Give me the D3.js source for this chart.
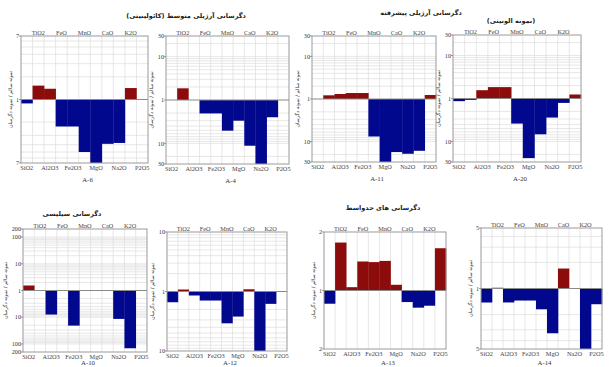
<!DOCTYPE html>
<html><head><meta charset="utf-8">
<script src="https://cdn.jsdelivr.net/npm/d3@7"></script>
<style>body{margin:0;background:#fff}svg{display:block}</style>
</head><body>
<svg id="c" width="614" height="367"></svg>
<script>
// ---- data ----
const oxides = ["SiO2","TiO2","Al2O3","FeO","Fe2O3","MnO","MgO","CaO","Na2O","K2O","P2O5"];
const topLabels = ["TiO2","FeO","MnO","CaO","K2O"];
const bottomLabels = ["SiO2","Al2O3","Fe2O3","MgO","Na2O","P2O5"];
const sampleNames = ["A-6","A-4","A-11","A-20","A-10","A-12","A-13","A-14"];
// altered / fresh ratios (log scale)
const ratioA6  = [0.887,1.53,1.39,0.437,0.437,0.20,0.143,0.257,0.264,1.42,1.0];
const ratioA4  = [1.0,1.86,1.0,0.49,0.49,0.196,0.333,0.088,0.0333,0.40,1.0];
const ratioA11 = [1.0,1.22,1.31,1.38,1.38,0.132,0.0333,0.057,0.052,0.061,1.24];
const ratioA20 = [0.867,0.93,1.56,1.84,1.84,0.261,0.041,0.147,0.36,0.79,1.24];
const ratioA10 = [1.54,1.0,0.126,1.0,0.0486,1.0,1.0,1.0,0.0865,0.0069,1.0];
const ratioA12 = [0.66,1.08,0.857,0.705,0.705,0.292,0.379,1.09,0.1,0.62,1.02];
const ratioA13 = [0.855,1.765,1.04,1.41,1.40,1.42,1.07,0.872,0.816,0.835,1.65];
const ratioA14 = [0.689,1.02,0.69,0.726,0.726,0.575,0.304,1.70,1.0,0.2,0.658];
const axisMax = [7,30,30,30,200,10,2,5];
const tickA6 = [7,1,7];
const tickA4 = [30,10,1,10,30];
const tickA11 = [30,10,1,10,30];
const tickA20 = [30,10,1,10,30];
const tickA10 = [200,100,10,1,10,100,200];
const tickA12 = [10,1,10];
const tickA13 = [2,1,2];
const tickA14 = [5,1,5];
const titles = ["دگرسانی آرژیلی متوسط (کائولینیتی)","دگرسانی آرژیلی پیشرفته","(نمونه الونیتی)","دگرسانی سیلیسی","دگرسانی های حدواسط"];
const yTitle = "نمونه سالم / نمونه دگرسان";

const ratios = [ratioA6,ratioA4,ratioA11,ratioA20,ratioA10,ratioA12,ratioA13,ratioA14];
const ticks = [tickA6,tickA4,tickA11,tickA20,tickA10,tickA12,tickA13,tickA14];

// ---- layout ----
const boxes = [
  {l:21,r:148,t:36,b:163},{l:166,r:289,t:36,b:164},{l:312,r:436,t:36,b:162},{l:453,r:581,t:35,b:162},
  {l:23,r:147,t:229,b:352},{l:167,r:287,t:232,b:351},{l:324,r:446,t:232,b:349},{l:481,r:602,t:228,b:349}
];
const titlePos = [[186,18],[421,15],[511,23],[72,216],[383,210]];
const RED = "#8c0b0b", BLUE = "#02088e";
const svg = d3.select("#c");
const serif = "'Liberation Serif','Times New Roman',serif";

boxes.forEach((bx,i)=>{
  const R = axisMax[i];
  const x = d3.scaleBand().domain(oxides).range([bx.l,bx.r]).padding(0);
  const y = d3.scaleLog().domain([1/R,R]).range([bx.b,bx.t]);
  const g = svg.append("g");
  // horizontal minor grid (log)
  const gv = [];
  for (let d=1; d<=R; d*=10) for (let m=1;m<=9;m++){ const v=m*d; if(v>1 && v<R){gv.push(v); gv.push(1/v);} }
  g.selectAll(".hg").data(gv).join("line")
    .attr("x1",bx.l).attr("x2",bx.r).attr("y1",d=>y(d)).attr("y2",d=>y(d))
    .attr("stroke","#dcdcdc").attr("stroke-width",0.7);
  // vertical grid at category boundaries
  g.selectAll(".vg").data(oxides.slice(1)).join("line")
    .attr("x1",d=>x(d)).attr("x2",d=>x(d)).attr("y1",bx.t).attr("y2",bx.b)
    .attr("stroke","#dcdcdc").attr("stroke-width",0.7);
  // bars
  g.selectAll(".bar").data(ratios[i]).join("rect")
    .attr("x",(d,j)=>x(oxides[j])).attr("width",x.bandwidth()+0.3)
    .attr("y",d=>Math.min(y(d),y(1))).attr("height",d=>Math.abs(y(d)-y(1)))
    .attr("fill",d=>d>=1?RED:BLUE);
  // reference line at 1
  g.append("line").attr("x1",bx.l).attr("x2",bx.r).attr("y1",y(1)).attr("y2",y(1))
    .attr("stroke","#8a8a8a").attr("stroke-width",1.2);
  // frame
  g.append("rect").attr("x",bx.l).attr("y",bx.t).attr("width",bx.r-bx.l).attr("height",bx.b-bx.t)
    .attr("fill","none").attr("stroke","#9a9a9a").attr("stroke-width",1);
  // y ticks (labels symmetric: upper half v, lower half 1/v)
  const tk = ticks[i];
  const half = (tk.length-1)/2;
  const tv = tk.map((t,k)=> k<half ? t : (k===half ? 1 : 1/t));
  g.selectAll(".tk").data(tv).join("line")
    .attr("x1",bx.l-2).attr("x2",bx.l).attr("y1",d=>y(d)).attr("y2",d=>y(d))
    .attr("stroke","#777").attr("stroke-width",0.7);
  g.selectAll(".tl").data(tv).join("text")
    .attr("x",bx.l-2).attr("y",d=>y(d)+2.2).attr("text-anchor","end")
    .attr("font-family",serif).attr("font-size",6.2).attr("fill","#333")
    .text((d,k)=>tk[k]);
  // category labels
  g.selectAll(".top").data(topLabels).join("text")
    .attr("x",d=>x(d)+x.bandwidth()/2).attr("y",bx.t-1.5).attr("text-anchor","middle")
    .attr("font-family",serif).attr("font-size",6.3).attr("fill","#444").text(d=>d);
  g.selectAll(".bot").data(bottomLabels).join("text")
    .attr("x",d=>x(d)+x.bandwidth()/2).attr("y",bx.b+6.5).attr("text-anchor","middle")
    .attr("font-family",serif).attr("font-size",6.3).attr("fill","#444").text(d=>d);
  // sample name
  g.append("text").attr("x",(bx.l+bx.r)/2+3).attr("y",Math.min(bx.b+19,364.5)).attr("text-anchor","middle")
    .attr("font-family",serif).attr("font-size",6.8).attr("fill","#333").text(sampleNames[i]);
  // y title
  const lw = d3.max(tk,t=>String(t).length)*3.3;
  const tx = bx.l - lw - 6, ty = (bx.t+bx.b)/2;
  g.append("text").attr("transform",`translate(${tx},${ty}) rotate(-90)`)
    .attr("text-anchor","middle").attr("font-family","'DejaVu Sans',sans-serif")
    .attr("font-size",5).attr("fill","#333").text(yTitle);
});

svg.selectAll(".ttl").data(titles).join("text")
  .attr("x",(d,i)=>titlePos[i][0]).attr("y",(d,i)=>titlePos[i][1]).attr("text-anchor","middle")
  .attr("font-family","'DejaVu Sans',sans-serif").attr("font-weight","bold").attr("font-size",6.5)
  .attr("fill","#222").text(d=>d);
</script>
</body></html>
